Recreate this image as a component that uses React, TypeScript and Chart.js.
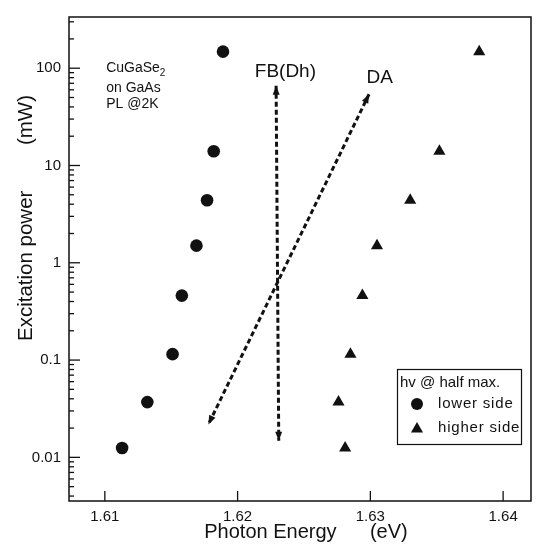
import React, { useEffect, useRef } from 'react';
import { Chart, registerables } from 'chart.js';

Chart.register(...registerables);

// ---------- data ----------
const powerLevels = [0.0125, 0.037, 0.115, 0.46, 1.5, 4.4, 14, 148];
const lowerSideEnergy = [1.6113, 1.6132, 1.6151, 1.6158, 1.6169, 1.6177, 1.6182, 1.6189];
const higherSideEnergy = [1.6281, 1.6276, 1.6285, 1.6294, 1.6305, 1.633, 1.6352, 1.6382];

const fbArrowEnergy = [1.6229, 1.6231];
const fbArrowPower = [66, 0.0148];
const daArrowEnergy = [1.6299, 1.6178];
const daArrowPower = [54, 0.0218];

const xTickValues = [1.61, 1.62, 1.63, 1.64];
const xTickLabels = ['1.61', '1.62', '1.63', '1.64'];
const yTickValues = [0.01, 0.1, 1, 10, 100];
const yTickLabels = ['0.01', '0.1', '1', '10', '100'];

const xRange = [1.6073, 1.6421];
const yRange = [0.00356, 336];

const sampleLines = ['on GaAs', 'PL @2K'];
const legendTitle = 'hv @ half max.';
const seriesNames = ['lower side', 'higher side'];

const FONT = '"Liberation Sans", Arial, Helvetica, sans-serif';
const INK = '#111';

function drawTriangle(ctx: CanvasRenderingContext2D, x: number, y: number, r: number) {
  ctx.beginPath();
  let a = 0;
  for (let i = 0; i < 3; i++) {
    const px = x + Math.sin(a) * r;
    const py = y - Math.cos(a) * r;
    if (i === 0) ctx.moveTo(px, py);
    else ctx.lineTo(px, py);
    a += (2 * Math.PI) / 3;
  }
  ctx.closePath();
  ctx.fill();
}

const decorPlugin = {
  id: 'decor',
  afterDatasetsDraw(chart: any) {
    const ctx: CanvasRenderingContext2D = chart.ctx;
    const xs = chart.scales.x;
    const ys = chart.scales.y;
    // arrowheads
    chart.data.datasets.forEach((ds: any, i: number) => {
      if (!ds.arrow) return;
      const pts = chart.getDatasetMeta(i).data;
      const ends = [
        [pts[0], pts[1]],
        [pts[pts.length - 1], pts[pts.length - 2]],
      ];
      ctx.save();
      ctx.fillStyle = INK;
      for (const [tip, from] of ends) {
        const ang = Math.atan2(tip.y - from.y, tip.x - from.x);
        const len = 9;
        const half = 3.5;
        const bx = tip.x - Math.cos(ang) * len;
        const by = tip.y - Math.sin(ang) * len;
        ctx.beginPath();
        ctx.moveTo(tip.x, tip.y);
        ctx.lineTo(bx + Math.sin(ang) * half, by - Math.cos(ang) * half);
        ctx.lineTo(bx - Math.sin(ang) * half, by + Math.cos(ang) * half);
        ctx.closePath();
        ctx.fill();
      }
      ctx.restore();
    });

    // annotations
    ctx.save();
    ctx.fillStyle = INK;
    ctx.textBaseline = 'middle';
    ctx.font = `19px ${FONT}`;
    ctx.textAlign = 'center';
    ctx.fillText('FB(Dh)', xs.getPixelForValue(1.6236), ys.getPixelForValue(93));
    ctx.fillText('DA', xs.getPixelForValue(1.6307), ys.getPixelForValue(80));

    ctx.textAlign = 'left';
    ctx.font = `14px ${FONT}`;
    const sx = xs.getPixelForValue(1.6101);
    const y0 = ys.getPixelForValue(100);
    ctx.fillText('CuGaSe', sx, y0);
    const w = ctx.measureText('CuGaSe').width;
    ctx.font = `10px ${FONT}`;
    ctx.fillText('2', sx + w, y0 + 5);
    ctx.font = `14px ${FONT}`;
    ctx.fillText(sampleLines[0], sx, ys.getPixelForValue(63));
    ctx.fillText(sampleLines[1], sx, ys.getPixelForValue(42.3));
    ctx.restore();
  },
  afterDraw(chart: any) {
    const ctx: CanvasRenderingContext2D = chart.ctx;
    const { left, right, top, bottom } = chart.chartArea;
    const xs = chart.scales.x;
    const ys = chart.scales.y;
    ctx.save();
    ctx.strokeStyle = INK;
    ctx.lineWidth = 1.5;
    ctx.strokeRect(left, top, right - left, bottom - top);

    // y ticks (inward)
    ctx.lineWidth = 1.3;
    ys.ticks.forEach((t: any) => {
      const py = ys.getPixelForValue(t.value);
      if (py < top - 0.5 || py > bottom + 0.5) return;
      const l = Math.log10(t.value);
      const major = Math.abs(l - Math.round(l)) < 1e-6;
      ctx.beginPath();
      ctx.moveTo(left, py);
      ctx.lineTo(left + (major ? 11 : 5), py);
      ctx.stroke();
    });
    // x ticks (inward)
    xs.ticks.forEach((t: any) => {
      const px = xs.getPixelForValue(t.value);
      ctx.beginPath();
      ctx.moveTo(px, bottom);
      ctx.lineTo(px, bottom - 10);
      ctx.stroke();
    });

    // axis titles
    ctx.fillStyle = INK;
    ctx.font = `20px ${FONT}`;
    ctx.textAlign = 'center';
    ctx.textBaseline = 'middle';
    ctx.fillText('Photon Energy      (eV)', 306, bottom + 31);
    ctx.save();
    ctx.translate(26, 218);
    ctx.rotate(-Math.PI / 2);
    ctx.font = `20.5px ${FONT}`;
    ctx.fillText('Excitation power        (mW)', 0, 0);
    ctx.restore();

    // legend box
    const bx = right - 134;
    const by = bottom - 132;
    ctx.lineWidth = 1.2;
    ctx.strokeRect(bx + 0.5, by + 0.5, 124, 75);
    ctx.textAlign = 'left';
    ctx.font = `15px ${FONT}`;
    ctx.fillText(legendTitle, bx + 3, by + 14);
    (ctx as any).letterSpacing = '0.8px';
    ctx.beginPath();
    ctx.arc(bx + 20, by + 35, 6, 0, Math.PI * 2);
    ctx.fill();
    ctx.fillText(seriesNames[0], bx + 41, by + 35);
    drawTriangle(ctx, bx + 20, by + 60, 7);
    ctx.fillText(seriesNames[1], bx + 41, by + 59);
    ctx.restore();
  },
};

export default function App() {
  const ref = useRef<HTMLCanvasElement>(null);
  useEffect(() => {
    document.body.style.margin = '0';
    const canvas = ref.current!;
    const chart = new Chart(canvas, {
      type: 'scatter',
      data: {
        datasets: [
          {
            label: seriesNames[0],
            data: lowerSideEnergy.map((x, i) => ({ x, y: powerLevels[i] })),
            pointStyle: 'circle',
            pointRadius: 6.3,
            backgroundColor: INK,
            borderColor: INK,
            borderWidth: 0,
          },
          {
            label: seriesNames[1],
            data: higherSideEnergy.map((x, i) => ({ x, y: powerLevels[i] })),
            pointStyle: 'triangle',
            pointRadius: 7,
            backgroundColor: INK,
            borderColor: INK,
            borderWidth: 0,
          },
          {
            label: 'FB(Dh)',
            data: fbArrowEnergy.map((x, i) => ({ x, y: fbArrowPower[i] })),
            showLine: true,
            pointRadius: 0,
            borderColor: INK,
            borderWidth: 3,
            borderDash: [5, 3],
            arrow: true,
          } as any,
          {
            label: 'DA',
            data: daArrowEnergy.map((x, i) => ({ x, y: daArrowPower[i] })),
            showLine: true,
            pointRadius: 0,
            borderColor: INK,
            borderWidth: 3,
            borderDash: [5, 3],
            arrow: true,
          } as any,
        ],
      },
      options: {
        responsive: false,
        animation: false,
        events: [],
        layout: { padding: { top: 10, right: 2, left: 0, bottom: 0 } },
        plugins: { legend: { display: false }, tooltip: { enabled: false } },
        scales: {
          x: {
            type: 'linear',
            min: xRange[0],
            max: xRange[1],
            grid: { display: false, drawTicks: false },
            border: { display: false },
            afterBuildTicks: (s: any) => {
              s.ticks = xTickValues.map((v) => ({ value: v }));
            },
            afterFit: (s: any) => {
              s.height = 45;
            },
            ticks: {
              autoSkip: false,
              maxRotation: 0,
              padding: 7,
              color: INK,
              font: { family: FONT, size: 15 },
              callback: (v: any) => {
                const i = xTickValues.findIndex((t) => Math.abs(t - v) < 1e-9);
                return i >= 0 ? xTickLabels[i] : '';
              },
            },
          },
          y: {
            type: 'logarithmic',
            min: yRange[0],
            max: yRange[1],
            grid: { display: false, drawTicks: false },
            border: { display: false },
            afterBuildTicks: (s: any) => {
              const t: any[] = [];
              for (let e = -3; e <= 2; e++) {
                for (let m = 1; m <= 9; m++) {
                  const v = parseFloat((m * Math.pow(10, e)).toPrecision(6));
                  if (v >= yRange[0] && v <= yRange[1]) t.push({ value: v });
                }
              }
              s.ticks = t;
            },
            afterFit: (s: any) => {
              s.width = 69;
            },
            ticks: {
              autoSkip: false,
              padding: 8,
              color: INK,
              font: { family: FONT, size: 15 },
              callback: (v: any) => {
                const i = yTickValues.findIndex((t) => Math.abs(t - v) / t < 1e-6);
                return i >= 0 ? yTickLabels[i] : '';
              },
            },
          },
        },
      },
      plugins: [decorPlugin],
    } as any);
    return () => chart.destroy();
  }, []);
  return (
    <div style={{ width: 538, height: 546 }}>
      <canvas ref={ref} width={538} height={546} style={{ display: 'block' }} />
    </div>
  );
}
